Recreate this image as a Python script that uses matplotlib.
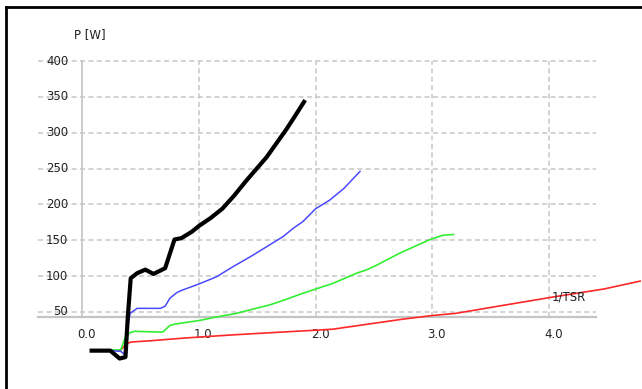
import matplotlib
matplotlib.use('Agg')
import matplotlib.pyplot as plt
from matplotlib.lines import Line2D
from matplotlib.transforms import ScaledTranslation

# curves (x = 1/TSR, y = P [W])
black_x = [0.08, 0.24, 0.32, 0.37, 0.39, 0.415, 0.47, 0.54, 0.61, 0.71, 0.79, 0.85,
           0.94, 1.0, 1.1, 1.2, 1.3, 1.41, 1.58, 1.75, 1.81, 1.9]
black_y = [-4, -4, -15, -13, 43, 97, 104, 109, 103, 111, 151, 153,
           162, 170, 181, 194, 212, 234, 266, 305, 320, 343]

blue_x = [0.25, 0.33, 0.36, 0.39, 0.41, 0.47, 0.67, 0.71, 0.75, 0.81, 0.85, 1.0,
          1.15, 1.29, 1.44, 1.58, 1.72, 1.81, 1.89, 2.0, 2.12, 2.24, 2.38]
blue_y = [-4, -5, -9, 30, 48, 55, 55, 58, 69, 77, 80, 89,
          99, 113, 127, 141, 155, 167, 176, 194, 206, 222, 246]

green_x = [0.24, 0.33, 0.37, 0.41, 0.45, 0.64, 0.69, 0.75, 0.79, 1.0, 1.15, 1.32,
           1.44, 1.61, 1.72, 1.89, 2.15, 2.35, 2.44, 2.52, 2.72, 2.98, 3.09, 3.18]
green_y = [-3, -3, 15, 21, 23, 22, 22, 31, 33, 38, 43, 48,
           53, 60, 66, 76, 90, 104, 109, 115, 132, 151, 157, 158]

red_x = [0.30, 0.33, 0.38, 0.42, 0.6, 0.87, 1.29, 1.72, 2.0, 2.15, 2.45, 2.75,
         3.0, 3.2, 3.6, 4.04, 4.47, 4.78]
red_y = [-4, -3, 6, 8, 10, 13.5, 18, 22, 24.5, 26, 33, 40,
         45, 48, 59, 71, 82, 93]

xticks = [0.0, 1.0, 2.0, 3.0, 4.0]
xtick_labels = ['0.0', '1.0', '2.0', '3.0', '4.0']
yticks = [50, 100, 150, 200, 250, 300, 350, 400]

plt.rcParams['font.family'] = 'DejaVu Sans'
fig = plt.figure(figsize=(6.42, 3.89), dpi=100)
ax = fig.add_axes([0, 0, 1, 1])
ax.set_xlim(-0.705, 4.796)
ax.set_ylim(-57.5, 485.1)
ax.axis('off')

grid_col = '#c8c8c8'
x_axis_y = 43
# dashed grid
ax.hlines(yticks, -0.38, 4.40, colors=grid_col, linewidth=1.1,
          linestyles=(0, (3.3, 2.2)), zorder=1)
ax.vlines(xticks[1:], x_axis_y, 400, colors=grid_col, linewidth=1.1,
          linestyles=(0, (3.3, 2.2)), zorder=1)
# axis lines
ax.plot([-0.38, 4.40], [x_axis_y, x_axis_y], color='#c4c4c4', lw=1.6, zorder=1)
ax.plot([0, 0], [x_axis_y, 400], color='#c4c4c4', lw=1.2, zorder=1)

txt_col = '#222222'
fs = 8.5
for yt in yticks:
    off = ScaledTranslation(-0.14, 0, fig.dpi_scale_trans)
    ax.text(0, yt, str(yt), ha='right', va='center', fontsize=fs, color=txt_col,
            transform=ax.transData + off,
            bbox=dict(facecolor='none', edgecolor='none', pad=0))
for xt, lab in zip(xticks, xtick_labels):
    off = ScaledTranslation(0.045, -0.18, fig.dpi_scale_trans)
    ax.text(xt, x_axis_y, lab, ha='center', va='center', fontsize=fs, color=txt_col,
            transform=ax.transData + off)

off = ScaledTranslation(-0.08, 0.26, fig.dpi_scale_trans)
ax.text(0, 400, 'P [W]', ha='left', va='center', fontsize=fs, color=txt_col,
        transform=ax.transData + off)

# curves
ax.plot(red_x, red_y, color='#ff2828', lw=1.2, zorder=3)
ax.plot(green_x, green_y, color='#33ee33', lw=1.2, zorder=3)
ax.plot(blue_x, blue_y, color='#4a4aff', lw=1.1, zorder=3)
ax.plot(black_x, black_y, color='black', lw=3.0, zorder=4, solid_joinstyle='round')

ax.text(4.025, 71.3, '1/TSR', ha='left', va='center', fontsize=fs, color=txt_col, zorder=5)

# black frame of the screenshot (top and left edges visible)
fig.add_artist(Line2D([6 / 642, 1], [1 - 7 / 389, 1 - 7 / 389], color='black', lw=2.0))
fig.add_artist(Line2D([6 / 642, 6 / 642], [0, 1 - 7 / 389], color='black', lw=2.0))

fig.savefig('out.png', dpi=100)
